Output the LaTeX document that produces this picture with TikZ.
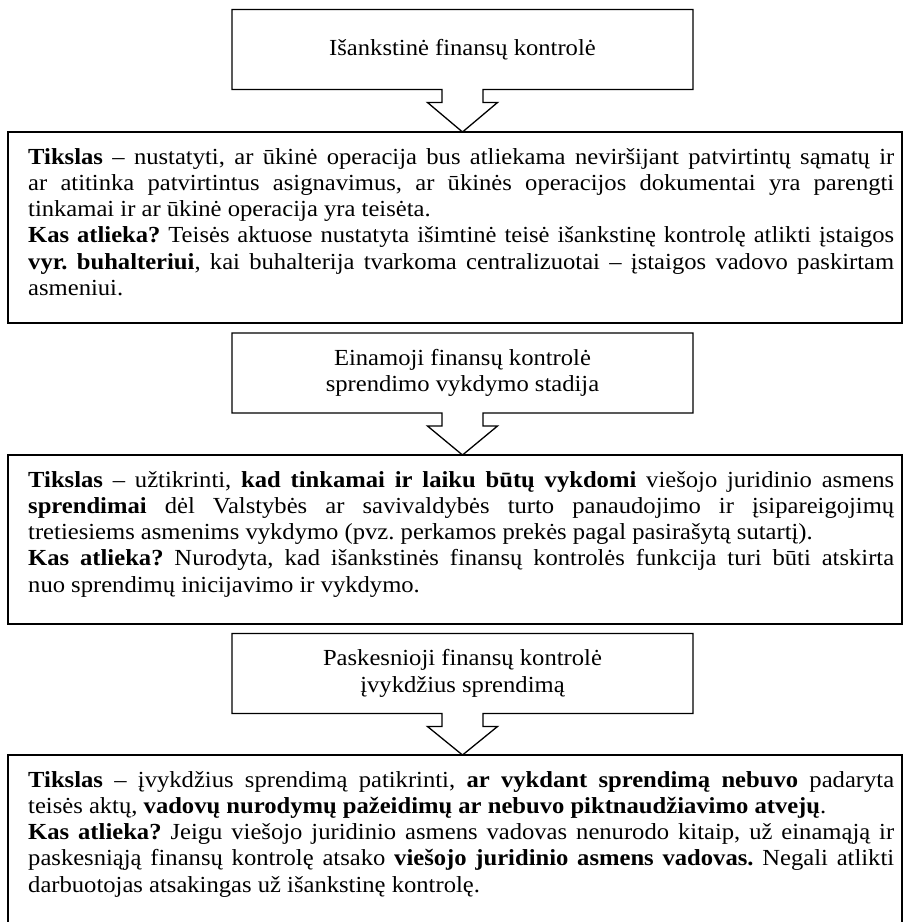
\documentclass[tikz,border=0pt]{standalone}
\usepackage{fontspec}
\setmainfont{Liberation Serif}[FakeStretch=1.07]

% the font's own interword glue, which TikZ's align=left replaces
\newcommand\fontspaces{\frenchspacing\spaceskip=0pt\relax\xspaceskip=0pt\relax}
% full-width justified line of the body text
\newcommand\jl[1]{\makebox[866pt][s]{#1}}

% down-arrow callout drawn round node #1, its tip resting on node #2
\newcommand\drawcallout[2]{%
  \draw[calloutline] (#1.north west) -- (#1.north east) -- (#1.south east)
    -- ([xshift=20.5pt]#1.south) -- ([xshift=20.5pt,yshift=-13pt]#1.south)
    -- ([xshift=35pt,yshift=-13pt]#1.south) -- (#1.south |- #2.north)
    -- ([xshift=-35pt,yshift=-13pt]#1.south) -- ([xshift=-20.5pt,yshift=-13pt]#1.south)
    -- ([xshift=-20.5pt]#1.south) -- (#1.south west) -- cycle;}

\begin{document}
\begin{tikzpicture}[x=1pt,y=-1pt,
  calloutbox/.style={minimum width=461pt, minimum height=80pt, inner sep=0pt,
    outer sep=0pt, align=center, font=\fontsize{23}{26.5}\selectfont},
  calloutline/.style={line width=1.3pt, line join=miter},
  bigbox/.style={draw, line width=1.6pt, minimum width=894pt, inner sep=0pt,
    outer sep=0pt, anchor=north west},
  bodytext/.style={text width=866pt, inner sep=0pt, align=left, anchor=base west,
    font=\fontsize{23}{26.3}\selectfont}]

\useasboundingbox (0,0) rectangle (903,922);

% ---- stage 1: preliminary control
\node[calloutbox] (c1) at (462.5,49.5) {\fontspaces Išankstinė finansų kontrolė};
\node[bigbox, minimum height=191pt] (b1) at (8,132) {};
\drawcallout{c1}{b1}
\node[bodytext] (t1) at (28,164) {\fontspaces
\jl{\textbf{Tikslas} – nustatyti, ar ūkinė operacija bus atliekama neviršijant patvirtintų sąmatų ir}\\
\jl{ar atitinka patvirtintus asignavimus, ar ūkinės operacijos dokumentai yra parengti}\\
tinkamai ir ar ūkinė operacija yra teisėta.\\
\jl{\textbf{Kas atlieka?} Teisės aktuose nustatyta išimtinė teisė išankstinę kontrolę atlikti įstaigos}\\
\jl{\textbf{vyr. buhalteriui}, kai buhalterija tvarkoma centralizuotai – įstaigos vadovo paskirtam}\\
asmeniui.};

% ---- stage 2: current control
\node[calloutbox] (c2) at (462.5,373) {\fontspaces Einamoji finansų kontrolė\\sprendimo vykdymo stadija};
\node[bigbox, minimum height=169pt] (b2) at (8,455) {};
\drawcallout{c2}{b2}
\node[bodytext] (t2) at (28,487) {\fontspaces
\jl{\textbf{Tikslas} – užtikrinti, \textbf{kad tinkamai ir laiku būtų vykdomi} viešojo juridinio asmens}\\
\jl{\textbf{sprendimai} dėl Valstybės ar savivaldybės turto panaudojimo ir įsipareigojimų}\\
tretiesiems asmenims vykdymo (pvz. perkamos prekės pagal pasirašytą sutartį).\\
\jl{\textbf{Kas atlieka?} Nurodyta, kad išankstinės finansų kontrolės funkcija turi būti atskirta}\\
nuo sprendimų inicijavimo ir vykdymo.};

% ---- stage 3: subsequent control
\node[calloutbox] (c3) at (462.5,673.5) {\fontspaces Paskesnioji finansų kontrolė\\įvykdžius sprendimą};
\node[bigbox, minimum height=170pt] (b3) at (8,755) {};
\drawcallout{c3}{b3}
\node[bodytext] (t3) at (28,787) {\fontspaces
\jl{\textbf{Tikslas} – įvykdžius sprendimą patikrinti, \textbf{ar vykdant sprendimą nebuvo} padaryta}\\
teisės aktų, \textbf{vadovų nurodymų pažeidimų ar nebuvo piktnaudžiavimo atvejų}.\\
\jl{\textbf{Kas atlieka?} Jeigu viešojo juridinio asmens vadovas nenurodo kitaip, už einamąją ir}\\
\jl{paskesniąją finansų kontrolę atsako \textbf{viešojo juridinio asmens vadovas.} Negali atlikti}\\
darbuotojas atsakingas už išankstinę kontrolę.};

\end{tikzpicture}
\end{document}
